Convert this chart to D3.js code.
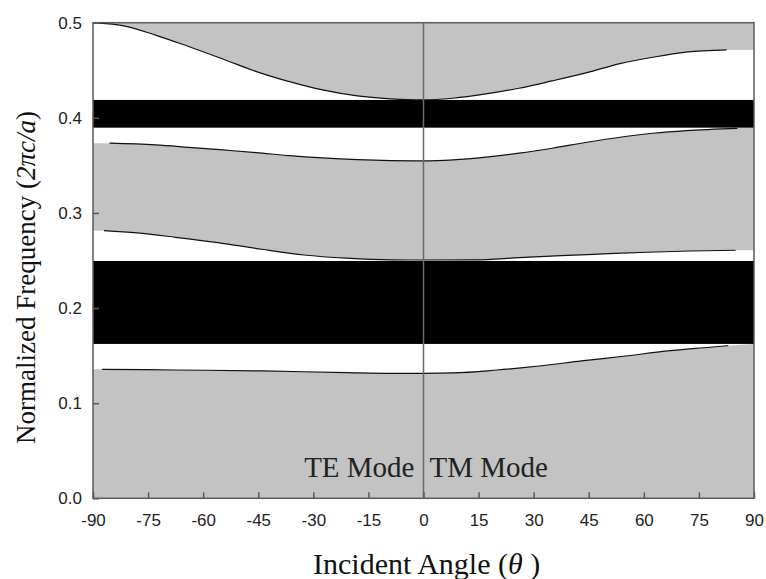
<!DOCTYPE html>
<html>
<head>
<meta charset="utf-8">
<script src="https://cdn.jsdelivr.net/npm/d3@7"></script>
<style>
  html, body { margin: 0; padding: 0; background: #fff; }
  svg { display: block; }
</style>
</head>
<body>
<svg id="chart" width="766" height="579"></svg>
<script>
// Band-edge curves: incident angle (deg) vs normalized frequency
const thetaA = [-88.5, -82, -73, -64, -54.5, -45.5, -36.5, -27.5, -18, -9, 0, 8, 17, 26, 35, 44.5, 53.5, 62.5, 71.5, 82.5];
const freqA  = [0.4995, 0.497, 0.487, 0.475, 0.4616, 0.4486, 0.438, 0.4293, 0.423, 0.420, 0.4188, 0.4206, 0.4251, 0.4311, 0.4388, 0.4475, 0.457, 0.4637, 0.469, 0.4714];

const thetaB = [-85.5, -73, -64, -54.5, -45.5, -36.5, -27.5, -18, -9, 0, 8, 17, 26, 35, 44.5, 53.5, 62.5, 71.5, 85.5];
const freqB  = [0.3733, 0.3715, 0.369, 0.3662, 0.3634, 0.3602, 0.3578, 0.356, 0.355, 0.3547, 0.3557, 0.3586, 0.3628, 0.368, 0.3743, 0.3796, 0.3838, 0.3866, 0.389];

const thetaC = [-87, -78, -67.5, -56, -44, -32.5, -21, -9, 0, 14, 26, 37.5, 49, 61, 72.5, 85];
const freqC  = [0.2814, 0.279, 0.2744, 0.2688, 0.2618, 0.2558, 0.2524, 0.2506, 0.2505, 0.2506, 0.253, 0.2551, 0.2569, 0.2587, 0.26, 0.2608];

const thetaD = [-87.5, -67.5, -44, -21, -9, 0, 8, 20, 31.5, 43, 55, 66.5, 78, 83];
const freqD  = [0.1356, 0.1349, 0.1339, 0.1321, 0.1314, 0.1314, 0.1318, 0.1349, 0.1391, 0.1444, 0.1496, 0.1549, 0.1588, 0.1605];

// Gap boundaries held flat out to the ±90° edges
const edgeLeft  = [0.5, 0.3733, 0.2814, 0.1356];
const edgeRight = [0.4714, 0.3897, 0.2608, 0.1623];

// Omnidirectional (complete) band gaps: [lower, upper]
const fullGapLow  = [0.3897, 0.1623];
const fullGapHigh = [0.4188, 0.2495];

// Axis ticks
const xTicks = [-90, -75, -60, -45, -30, -15, 0, 15, 30, 45, 60, 75, 90];
const yTicks = [0.0, 0.1, 0.2, 0.3, 0.4, 0.5];

const svg = d3.select("#chart");
const plotL = 93, plotR = 754, plotT = 22.7, plotB = 498.3;

const x = d3.scaleLinear().domain([-90, 90]).range([plotL, plotR]);
const y = d3.scaleLinear().domain([0, 0.5]).range([plotB, plotT]);

const GRAY = "#c3c3c3";
const AXIS = "#5a5a5a";

// Pass bands (gray background)
svg.append("rect")
  .attr("x", plotL).attr("y", plotT)
  .attr("width", plotR - plotL).attr("height", plotB - plotT)
  .attr("fill", GRAY);

const curves = [
  { t: thetaA, f: freqA },
  { t: thetaB, f: freqB },
  { t: thetaC, f: freqC },
  { t: thetaD, f: freqD }
];
// each directional gap lies between a curve and the face of a complete gap
const gapFace = [fullGapHigh[0], fullGapLow[0], fullGapHigh[1], fullGapLow[1]];

svg.append("clipPath").attr("id", "plotclip")
  .append("rect").attr("x", plotL).attr("y", plotT)
  .attr("width", plotR - plotL).attr("height", plotB - plotT);

const plot = svg.append("g").attr("clip-path", "url(#plotclip)");

const area = d3.area()
  .x(d => x(d[0]))
  .y0(d => y(d[1]))
  .y1(d => y(d[2]))
  .curve(d3.curveMonotoneX);

curves.forEach((c, i) => {
  const pts = [[-90, edgeLeft[i], gapFace[i]]];
  c.t.forEach((t, k) => pts.push([t, c.f[k], gapFace[i]]));
  pts.push([90, edgeRight[i], gapFace[i]]);
  plot.append("path")
    .attr("d", area(pts))
    .attr("fill", "#fff");
});

// Complete band gaps (black)
fullGapLow.forEach((lo, i) => {
  plot.append("rect")
    .attr("x", x(-90)).attr("width", x(90) - x(-90))
    .attr("y", y(fullGapHigh[i]))
    .attr("height", y(lo) - y(fullGapHigh[i]))
    .attr("fill", "#000");
});

// Band-edge lines
const line = d3.line()
  .x(d => x(d[0]))
  .y(d => y(d[1]))
  .curve(d3.curveMonotoneX);

curves.forEach(c => {
  plot.append("path")
    .attr("d", line(c.t.map((t, k) => [t, c.f[k]])))
    .attr("fill", "none")
    .attr("stroke", "#111")
    .attr("stroke-width", 1.2);
});

// Normal incidence divider between TE and TM
svg.append("line")
  .attr("x1", x(0)).attr("x2", x(0))
  .attr("y1", plotT).attr("y2", plotB)
  .attr("stroke", "#6a6a6a").attr("stroke-width", 1.5);

// Axes with inward ticks
const xAxis = d3.axisBottom(x).tickValues(xTicks)
  .tickSizeInner(-6).tickSizeOuter(0).tickPadding(16)
  .tickFormat(d => String(d));
const yAxis = d3.axisLeft(y).tickValues(yTicks)
  .tickSizeInner(-6).tickSizeOuter(0).tickPadding(11)
  .tickFormat(d => d.toFixed(1));

const gx = svg.append("g").attr("transform", `translate(0,${plotB})`).call(xAxis);
const gy = svg.append("g").attr("transform", `translate(${plotL},0)`).call(yAxis);

[gx, gy].forEach(g => {
  g.select(".domain").remove();
  g.selectAll(".tick line").attr("stroke", AXIS).attr("stroke-width", 1.5);
  g.selectAll(".tick text")
    .attr("fill", "#222")
    .style("font-family", "'Liberation Sans', Arial, sans-serif")
    .style("font-size", "17px");
});

// Plot frame
svg.append("rect")
  .attr("x", plotL).attr("y", plotT)
  .attr("width", plotR - plotL).attr("height", plotB - plotT)
  .attr("fill", "none").attr("stroke", AXIS).attr("stroke-width", 1.5);

const serif = "'Liberation Serif', 'Times New Roman', serif";

// Mode labels
svg.append("text")
  .attr("x", x(0) - 9).attr("y", 477)
  .attr("text-anchor", "end")
  .style("font-family", serif).style("font-size", "29px").attr("fill", "#222")
  .text("TE Mode");
svg.append("text")
  .attr("x", x(0) + 6).attr("y", 477)
  .attr("text-anchor", "start")
  .style("font-family", serif).style("font-size", "29px").attr("fill", "#222")
  .text("TM Mode");

// Axis titles
const xt = svg.append("text")
  .attr("x", 313).attr("y", 574)
  .attr("text-anchor", "start")
  .style("font-family", serif).style("font-size", "30px").attr("fill", "#111");
xt.append("tspan").text("Incident Angle (");
xt.append("tspan").style("font-style", "italic").text("θ");
xt.append("tspan").text(" )");

const yt = svg.append("text")
  .attr("transform", "translate(35,444) rotate(-90)")
  .attr("text-anchor", "start")
  .style("font-family", serif).style("font-size", "27px").attr("fill", "#111");
yt.append("tspan").text("Normalized Frequency (");
yt.append("tspan").style("font-style", "italic").text("2πc/a");
yt.append("tspan").text(")");
</script>
</body>
</html>
